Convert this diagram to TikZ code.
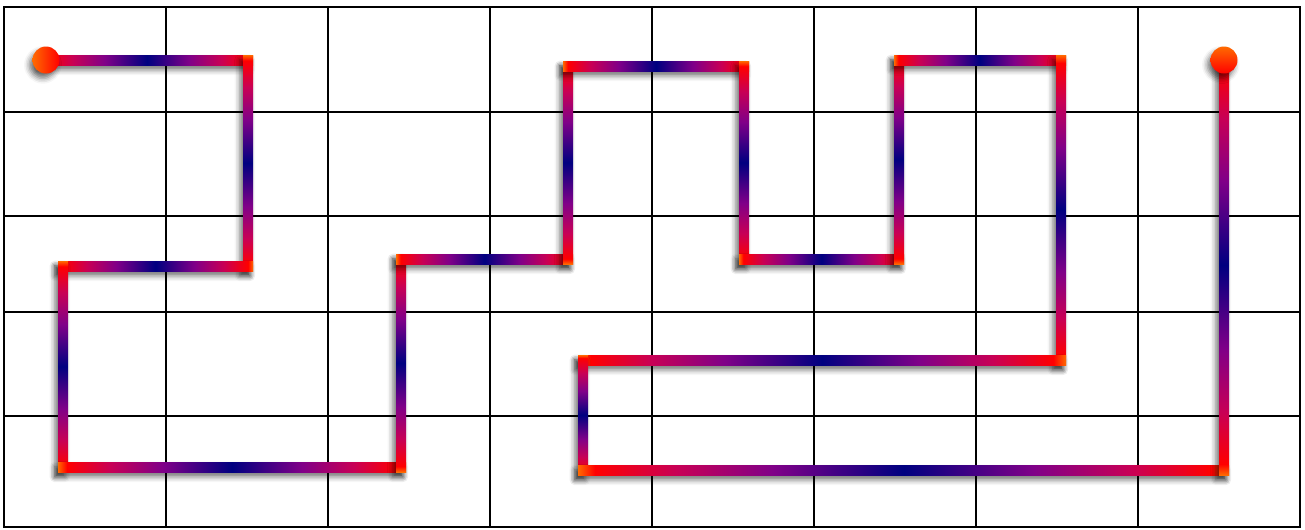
\documentclass[tikz,border=0pt]{standalone}
\usepackage{xcolor}
\usepackage{tikz}
\usetikzlibrary{calc,shadows.blur}
\definecolor{PathOrange}{HTML}{FF6A00}
\definecolor{PathRed}{HTML}{FF0000}
\definecolor{PathRose}{HTML}{C80055}
\definecolor{PathPurple}{HTML}{800088}
\definecolor{PathNavy}{HTML}{000080}
\definecolor{GridBlack}{HTML}{000000}
\pgfdeclarehorizontalshading{segshade}{100bp}{color(0bp)=(PathOrange); color(25bp)=(PathOrange); color(26.3bp)=(PathRed); color(32.5bp)=(PathRose); color(40bp)=(PathPurple); color(50bp)=(PathNavy); color(60bp)=(PathPurple); color(67.5bp)=(PathRose); color(73.7bp)=(PathRed); color(75bp)=(PathOrange); color(100bp)=(PathOrange)}
\tikzset{
  gridline/.style={GridBlack,line width=1.1pt},
  routeshadow/.style={blur shadow={shadow xshift=-1.8pt,shadow yshift=-2.8pt,shadow blur radius=3pt,shadow opacity=55}},
  routeseg/.style={shading=segshade,routeshadow},
  routeend/.style={routeshadow}
}
% one straight piece of the route, first point up/left of the second
\newcommand{\routepiece}[3]{\shade[routeseg,shading angle=#3] ($(#1)+(-5,-5)$) rectangle ($(#2)+(5,5)$);}

\begin{document}
\begin{tikzpicture}[x=0.02cm,y=-0.02cm]
\path[use as bounding box] (0,0) rectangle (1305,529);
% grid
\draw[gridline] (4,7) rectangle (1300,527);
\foreach \gx in {166,328,490,652,814,976,1138}
  \draw[gridline] (\gx,7) -- (\gx,527);
\foreach \gy in {112,216,312,416}
  \draw[gridline] (4,\gy) -- (1300,\gy);
% corners of the route
\coordinate (p0) at (46,60);
\coordinate (p1) at (248,60);
\coordinate (p2) at (248,266);
\coordinate (p3) at (63,266);
\coordinate (p4) at (63,467);
\coordinate (p5) at (401,467);
\coordinate (p6) at (401,259);
\coordinate (p7) at (568,259);
\coordinate (p8) at (568,66);
\coordinate (p9) at (744,66);
\coordinate (p10) at (744,259);
\coordinate (p11) at (899,259);
\coordinate (p12) at (899,60);
\coordinate (p13) at (1061,60);
\coordinate (p14) at (1061,360);
\coordinate (p15) at (583,360);
\coordinate (p16) at (583,470);
\coordinate (p17) at (1224,470);
\coordinate (p18) at (1224,60);
% route
\routepiece{p0}{p1}{0}
\routepiece{p1}{p2}{90}
\routepiece{p3}{p2}{0}
\routepiece{p3}{p4}{90}
\routepiece{p4}{p5}{0}
\routepiece{p6}{p5}{90}
\routepiece{p6}{p7}{0}
\routepiece{p8}{p7}{90}
\routepiece{p8}{p9}{0}
\routepiece{p9}{p10}{90}
\routepiece{p10}{p11}{0}
\routepiece{p12}{p11}{90}
\routepiece{p12}{p13}{0}
\routepiece{p13}{p14}{90}
\routepiece{p15}{p14}{0}
\routepiece{p15}{p16}{90}
\routepiece{p16}{p17}{0}
\routepiece{p18}{p17}{90}
% start and end
\shade[routeend,left color=PathOrange,middle color=PathRed,right color=PathRed] (p0) circle[radius=13.5];
\shade[routeend,top color=PathOrange,middle color=PathRed,bottom color=PathRed] (p18) circle[radius=13.5];
\end{tikzpicture}
\end{document}
